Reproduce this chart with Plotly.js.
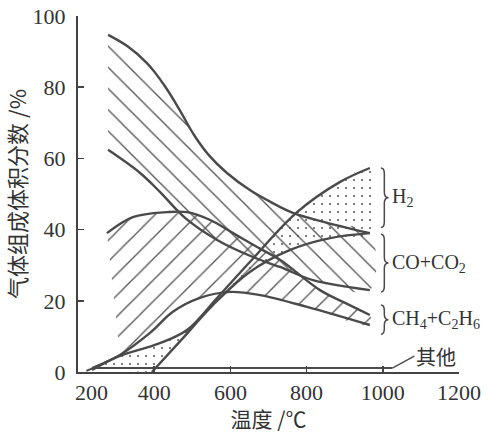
<!DOCTYPE html>
<html><head><meta charset="utf-8">
<script src="https://cdn.plot.ly/plotly-3.0.1.min.js"></script>
<style>html,body{margin:0;padding:0;background:#fff}#c{width:488px;height:433px}</style>
</head><body><div id="c"></div>
<script>
// temperature (°C) and volume fraction (%)
const coTopT = [279, 330, 381, 430, 470, 505, 545, 591, 651, 710, 764, 854, 966];
const coTopV = [94.7, 91.5, 86.8, 80.0, 73.0, 66.5, 60.7, 55.9, 51.1, 47.5, 44.7, 41.9, 39.0];
const coBotT = [279, 363, 415, 481, 565, 659, 730, 817, 966];
const coBotV = [62.4, 55.9, 50.6, 43.3, 37.1, 32.3, 29.5, 25.8, 23.0];
const chTopT = [276, 344, 434, 486, 547, 607, 670, 730, 835, 901, 966];
const chTopV = [39.0, 43.5, 44.9, 44.9, 42.7, 39.0, 35.1, 31.5, 23.0, 19.4, 16.0];
const chBotT = [237, 310, 389, 449, 520, 599, 678, 801, 966];
const chBotV = [1.1, 4.8, 11.0, 16.9, 20.8, 22.5, 21.6, 18.3, 13.2];
const h2TopT = [237, 302, 415, 486, 565, 651, 775, 888, 966];
const h2TopV = [0.6, 4.2, 8.1, 11.8, 20.8, 30.9, 44.9, 53.4, 57.3];
const h2BotT = [394, 476, 554, 651, 757, 862, 966];
const h2BotV = [0, 9.6, 18.8, 28.1, 34.3, 37.6, 39.0];
const otherT = [222, 240, 1025];
const otherV = [0.3, 1.1, 1.1];
const xTicks = [200, 400, 600, 800, 1000, 1200];
const yTicks = [0, 20, 40, 60, 80, 100];

const LINE = '#4a4a4a';
function band(tTop, vTop, tBot, vBot, shape, size, sol) {
  const x = tTop.slice(), y = vTop.slice();
  for (let i = tBot.length - 1; i >= 0; i--) {
    if (tBot[i] >= tTop[0] - 1 || shape === '.') { x.push(tBot[i]); y.push(vBot[i]); }
  }
  return {x, y, type: 'scatter', mode: 'lines', fill: 'toself',
    line: {width: 0, color: 'rgba(0,0,0,0)', shape: 'spline', smoothing: 1},
    fillcolor: 'rgba(0,0,0,0)', hoverinfo: 'skip', showlegend: false,
    fillpattern: {shape, size, solidity: sol, fgcolor: '#555', bgcolor: 'rgba(0,0,0,0)', fgopacity: 1}};
}
function curve(t, v, w) {
  return {x: t, y: v, type: 'scatter', mode: 'lines', showlegend: false, hoverinfo: 'skip',
    line: {color: LINE, width: w || 2.4, shape: 'spline', smoothing: 1}};
}
const traces = [
  band(coTopT, coTopV, coBotT, coBotV, '\\', 15, 0.09),
  band(chTopT, chTopV, chBotT, chBotV, '/', 15, 0.09),
  band(h2TopT, h2TopV, h2BotT, h2BotV, '.', 8, 0.05),
  curve(coTopT, coTopV), curve(coBotT, coBotV),
  curve(chTopT, chTopV), curve(chBotT, chBotV),
  curve(h2TopT, h2TopV), curve(h2BotT, h2BotV),
  {x: otherT, y: otherV, type: 'scatter', mode: 'lines', showlegend: false, hoverinfo: 'skip',
   line: {color: LINE, width: 2}}
];

// braces built from the band end values
function brace(top, bot) {
  const x0 = 995, x1 = 1004, x2 = 1015, d = 1.6, mid = (top + bot) / 2;
  return {type: 'path', xref: 'x', yref: 'y', line: {color: LINE, width: 1.5},
    path: `M${x0},${top} Q${x1},${top} ${x1},${top - d} L${x1},${mid + d} Q${x1},${mid} ${x2},${mid} ` +
          `Q${x1},${mid} ${x1},${mid - d} L${x1},${bot + d} Q${x1},${bot} ${x0},${bot}`};
}
const n = a => a[a.length - 1];
const shapes = [
  brace(n(h2TopV), n(h2BotV) + 1.6),
  brace(n(coTopV) - 0.3, n(coBotV) - 0.5),
  brace(n(chTopV) + 2.8, n(chBotV) - 2.6)
];
const serif = 'Liberation Serif, Times New Roman, serif';
const lf = {family: serif, size: 20, color: '#333'};
const annotations = [
  {x: 1020, y: (n(h2TopV) + n(h2BotV) + 1.6) / 2, text: 'H<sub>2</sub>', showarrow: false, xanchor: 'left', font: lf},
  {x: 1020, y: (n(coTopV) + n(coBotV) - 0.8) / 2, text: 'CO+CO<sub>2</sub>', showarrow: false, xanchor: 'left', font: lf},
  {x: 1018, y: (n(chTopV) + n(chBotV) + 0.2) / 2, text: 'CH<sub>4</sub>+C<sub>2</sub>H<sub>6</sub>', showarrow: false, xanchor: 'left', font: lf},
  {x: n(otherT), y: n(otherV), text: '其他', showarrow: true, arrowhead: 0, arrowwidth: 1.4, arrowcolor: LINE,
   ax: 22, ay: -12, standoff: 0, xanchor: 'left',
   font: {family: 'Noto Sans CJK SC', size: 20, color: '#333'}},
  // first x tick label sits to the right of the corner in the original
  {x: xTicks[0], y: 0, yref: 'paper', text: String(xTicks[0]), showarrow: false,
   xanchor: 'center', yanchor: 'top', xshift: 13, yshift: -6, font: {family: serif, size: 22, color: '#333'}}
];
const axisBase = {showline: true, linecolor: '#444', linewidth: 2, ticks: 'inside', ticklen: 6,
  tickwidth: 1.5, tickcolor: '#444', showgrid: false, zeroline: false,
  tickfont: {family: serif, size: 22, color: '#333'}};
const layout = {
  width: 488, height: 433, margin: {l: 78, r: 29, t: 16, b: 61},
  paper_bgcolor: '#fff', plot_bgcolor: '#fff', showlegend: false,
  xaxis: Object.assign({}, axisBase, {range: [200, 1200], tickvals: xTicks,
    ticktext: xTicks.map((v, i) => i === 0 ? '' : String(v)),
    title: {text: '温度 /℃', font: {family: 'Noto Sans CJK SC', size: 21, color: '#333'}, standoff: 10}}),
  yaxis: Object.assign({}, axisBase, {range: [0, 100], tickvals: yTicks, ticktext: yTicks.map(String),
    ticklabelstandoff: 6,
    title: {text: '气体组成体积分数 /%', font: {family: 'Noto Sans CJK SC', size: 22, color: '#333'}, standoff: 2}}),
  shapes, annotations
};
Plotly.newPlot('c', traces, layout, {displayModeBar: false, staticPlot: true});
</script></body></html>
